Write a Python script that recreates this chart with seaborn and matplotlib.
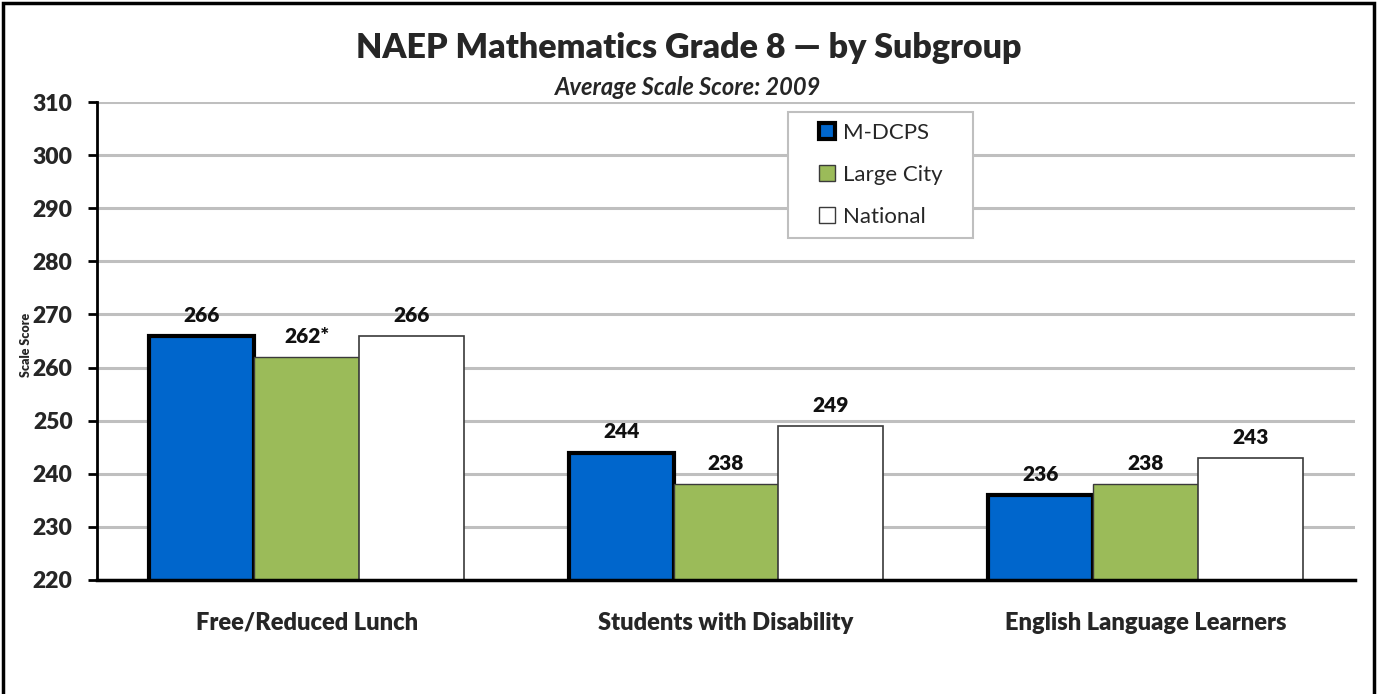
import matplotlib
matplotlib.use("Agg")
import matplotlib.pyplot as plt
import seaborn as sns
import pandas as pd
from matplotlib.patches import Rectangle

categories = ["Free/Reduced Lunch", "Students with Disability", "English Language Learners"]
series = ["M-DCPS", "Large City", "National"]
mdcps = [266, 244, 236]
large_city = [262, 238, 238]
national = [266, 249, 243]
label_text = {
    "M-DCPS": ["266", "244", "236"],
    "Large City": ["262*", "238", "238"],
    "National": ["266", "249", "243"],
}
yticks = [220, 230, 240, 250, 260, 270, 280, 290, 300, 310]

rows = []
for s, vals in zip(series, [mdcps, large_city, national]):
    for c, v in zip(categories, vals):
        rows.append({"Subgroup": c, "Series": s, "Score": v})
df = pd.DataFrame(rows)

sns.set_theme(style="white")
plt.rcParams["font.family"] = ["Lato", "DejaVu Sans"]

fig = plt.figure(figsize=(13.77, 6.94), dpi=100)
ax = fig.add_axes([0.0704, 0.1643, 0.9136, 0.6887])

palette = {"M-DCPS": "#0066CC", "Large City": "#9BBB59", "National": "#FFFFFF"}
sns.barplot(data=df, x="Subgroup", y="Score", hue="Series", hue_order=series,
            order=categories, palette=palette, width=0.75, saturation=1,
            errorbar=None, ax=ax, zorder=3)

edge_styles = {"M-DCPS": ("#000000", 3.0), "Large City": ("#3a3a3a", 1.0), "National": ("#3a3a3a", 1.2)}
for cont, s in zip(ax.containers, series):
    ec, lw = edge_styles[s]
    for p in cont:
        p.set_edgecolor(ec)
        p.set_linewidth(lw)
    ax.bar_label(cont, labels=label_text[s], padding=8, fontsize=15,
                 fontweight="heavy", color="#111111")

ax.set_ylim(220, 310)
ax.set_yticks(yticks)
ax.set_yticklabels([str(t) for t in yticks], fontsize=16.5, fontweight="heavy")
ax.set_xlim(-0.5, 2.5)
ax.set_xticks(range(len(categories)))
ax.set_xticklabels(categories, fontsize=17, fontweight="heavy")
ax.set_xticks([-0.5, 0.5, 1.5, 2.5], minor=True)
ax.tick_params(axis="x", which="major", length=0, pad=23)
ax.tick_params(axis="x", which="minor", length=7, width=2, direction="out", color="black")
ax.tick_params(axis="y", length=6.5, width=2, direction="out", color="black", pad=11, left=True)

ax.yaxis.grid(True, color="#BFBFBF", linewidth=2.2, zorder=0)
ax.set_axisbelow(True)
for side in ["top", "right"]:
    ax.spines[side].set_visible(False)
ax.spines["left"].set_color("black")
ax.spines["left"].set_linewidth(2)
ax.spines["bottom"].set_color("black")
ax.spines["bottom"].set_linewidth(2.5)
ax.spines["left"].set_zorder(5)
ax.spines["bottom"].set_zorder(5)

ax.set_xlabel("")
ax.set_ylabel("")
fig.text(0.019, 0.503, "Scale Score", rotation=90, fontsize=9, fontweight="heavy",
         ha="center", va="center")

# legend box
ax.add_patch(Rectangle((0.549, 0.715), 0.147, 0.264, transform=ax.transAxes,
                       facecolor="white", edgecolor="#BFBFBF", linewidth=1.5,
                       zorder=9, clip_on=False))
handles, labels = ax.get_legend_handles_labels()
for h, s in zip(handles, series):
    ec, lw = edge_styles[s]
    h.set_edgecolor(ec)
    h.set_linewidth(3.0 if s == "M-DCPS" else 1.0)
leg = ax.legend(handles, labels, loc="upper left", bbox_to_anchor=(0.5736, 0.956),
                frameon=False, fontsize=16,
                handlelength=0.75, handleheight=0.75, handletextpad=0.35,
                labelspacing=0.98, borderpad=0.0, borderaxespad=0)
leg.set_zorder(10)

fig.text(0.5, 0.931, "NAEP Mathematics Grade 8 \u2014 by Subgroup", fontsize=24.5,
         fontweight="heavy", ha="center", va="center")
fig.text(0.5, 0.874, "Average Scale Score: 2009", fontsize=17, fontstyle="italic",
         fontweight="bold", ha="center", va="center")

fig.add_artist(Rectangle((0.0022, -0.02), 0.9956, 1.0157, transform=fig.transFigure,
                         fill=False, edgecolor="black", linewidth=2.5))

fig.savefig("out.png", dpi=100)
